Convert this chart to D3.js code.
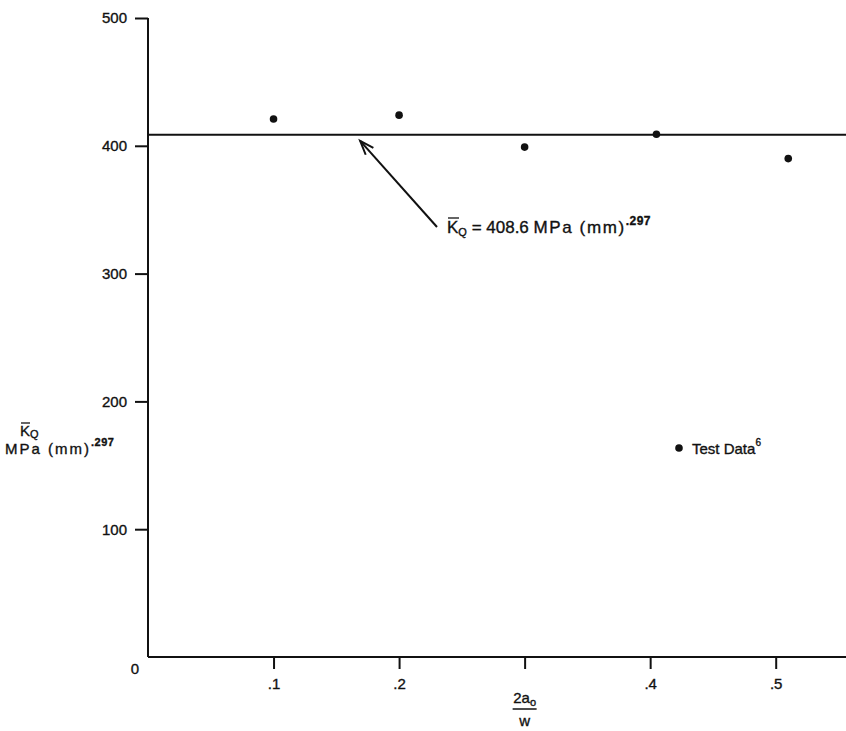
<!DOCTYPE html>
<html>
<head>
<meta charset="utf-8">
<script src="https://cdn.jsdelivr.net/npm/d3@7"></script>
<style>
  html, body { margin: 0; padding: 0; background: #fff; }
  svg { display: block; font-family: "Liberation Sans", Arial, Helvetica, sans-serif; }
  svg text { stroke: #111; stroke-width: 0.35px; }
</style>
</head>
<body>
<svg id="chart" width="846" height="731"></svg>
<script>
// Crack ratio 2a0/W and measured apparent toughness K̄Q
const ratios = [0.1, 0.2, 0.3, 0.405, 0.51];
const kqValues = [421, 424, 399, 409, 390];
const meanKq = 408.6;
const xTicks = [0.1, 0.2, 0.3, 0.4, 0.5];
// the .3 position carries the axis title instead of a number
const xTickLabels = [".1", ".2", "", ".4", ".5"];
const yTicks = [100, 200, 300, 400, 500];

const svg = d3.select("#chart");
const ink = "#111";

const x = d3.scaleLinear().domain([0, 0.556]).range([148, 846]);
const y = d3.scaleLinear().domain([0, 500]).range([657, 18]);

// Y axis: ticks point left, labels right-aligned
const yAxis = d3.axisLeft(y).tickValues(yTicks).tickSize(13).tickPadding(8)
  .tickFormat(d3.format("d"));
const gy = svg.append("g").attr("transform", `translate(${x(0)},0)`).call(yAxis);
gy.select(".domain").remove();
gy.selectAll(".tick line").attr("stroke", ink).attr("stroke-width", 2);
gy.selectAll(".tick text").attr("fill", ink).style("font-size", "15px");
svg.append("line")
  .attr("x1", x(0)).attr("x2", x(0)).attr("y1", y(0)).attr("y2", y(500))
  .attr("stroke", ink).attr("stroke-width", 2);

// X axis: ticks point down
const xAxis = d3.axisBottom(x).tickValues(xTicks).tickSize(12).tickPadding(9)
  .tickFormat((d, i) => xTickLabels[i]);
const gx = svg.append("g").attr("transform", `translate(0,${y(0)})`).call(xAxis);
gx.select(".domain").remove();
gx.selectAll(".tick line").attr("stroke", ink).attr("stroke-width", 2);
gx.selectAll(".tick text").attr("fill", ink).style("font-size", "15px");
svg.append("line")
  .attr("x1", x(0)).attr("x2", x.range()[1]).attr("y1", y(0)).attr("y2", y(0))
  .attr("stroke", ink).attr("stroke-width", 2);

// Origin label
svg.append("text").attr("x", x(0) - 13).attr("y", y(0) + 17)
  .attr("text-anchor", "middle").attr("fill", ink).style("font-size", "15px").text("0");

// X axis title: 2a0 over W
const xt = svg.append("g").attr("transform", `translate(${x(0.3)},0)`);
const num = xt.append("text").attr("y", 703).attr("text-anchor", "middle")
  .attr("fill", ink).style("font-size", "15px");
num.append("tspan").text("2a");
num.append("tspan").attr("dy", 3).style("font-size", "11px").text("o");
xt.append("line").attr("x1", -12).attr("x2", 12).attr("y1", 709).attr("y2", 709)
  .attr("stroke", ink).attr("stroke-width", 1.5);
xt.append("text").attr("y", 726).attr("text-anchor", "middle")
  .attr("fill", ink).style("font-size", "15px").text("w");

// Y axis title: K̄Q over MPa (mm)^.297
const yt = svg.append("g");
const kq = yt.append("text").attr("x", 20).attr("y", 436).attr("fill", ink).style("font-size", "15px");
kq.append("tspan").text("K");
kq.append("tspan").attr("dy", 2).style("font-size", "11px").text("Q");
yt.append("line").attr("x1", 21).attr("x2", 30).attr("y1", 423).attr("y2", 423)
  .attr("stroke", ink).attr("stroke-width", 1.3);
const unitsY = yt.append("text").attr("x", 5).attr("y", 454).attr("fill", ink)
  .style("font-size", "15px").style("letter-spacing", "2px");
unitsY.append("tspan").text("MPa (mm)");
unitsY.append("tspan").attr("dy", -8).style("font-size", "11px").style("letter-spacing", "0.5px")
  .style("font-weight", "bold").text(".297");

// Mean line
svg.append("line")
  .attr("x1", x(0)).attr("x2", x.range()[1]).attr("y1", y(meanKq)).attr("y2", y(meanKq))
  .attr("stroke", ink).attr("stroke-width", 2);

// Test data points
svg.append("g").selectAll("circle").data(ratios).join("circle")
  .attr("cx", d => x(d)).attr("cy", (d, i) => y(kqValues[i]))
  .attr("r", 3.8).attr("fill", ink);

// Annotation arrow pointing to the mean line
const tip = [x(0.169), y(meanKq) + 6];
const tail = [437, 227];
svg.append("line").attr("x1", tail[0]).attr("y1", tail[1]).attr("x2", tip[0]).attr("y2", tip[1])
  .attr("stroke", ink).attr("stroke-width", 2);
const ang = Math.atan2(tail[1] - tip[1], tail[0] - tip[0]);
const headLen = 15, spread = 0.35;
const barb = a => [tip[0] + headLen * Math.cos(a), tip[1] + headLen * Math.sin(a)];
const b1 = barb(ang - spread), b2 = barb(ang + spread);
svg.append("path")
  .attr("d", `M${b1[0]},${b1[1]}L${tip[0]},${tip[1]}L${b2[0]},${b2[1]}`)
  .attr("fill", "none").attr("stroke", ink).attr("stroke-width", 2);

const ann = svg.append("text").attr("x", 447).attr("y", 233).attr("fill", ink).style("font-size", "17px");
ann.append("tspan").text("K");
ann.append("tspan").attr("dy", 3).style("font-size", "11px").text("Q");
ann.append("tspan").attr("dy", -3).text(" = 408.6  ");
ann.append("tspan").style("letter-spacing", "1.6px").text("MPa (mm)");
ann.append("tspan").attr("dy", -8).style("font-size", "12px").style("font-weight", "bold")
  .style("letter-spacing", "0.5px").text(".297");
svg.append("line").attr("x1", 448).attr("x2", 459).attr("y1", 218).attr("y2", 218)
  .attr("stroke", ink).attr("stroke-width", 1.3);

// Legend
svg.append("circle").attr("cx", 679).attr("cy", 448).attr("r", 3.8).attr("fill", ink);
const leg = svg.append("text").attr("x", 692).attr("y", 454).attr("fill", ink).style("font-size", "15px");
leg.append("tspan").text("Test Data");
leg.append("tspan").attr("dy", -8).style("font-size", "10px").text("6");
</script>
</body>
</html>
